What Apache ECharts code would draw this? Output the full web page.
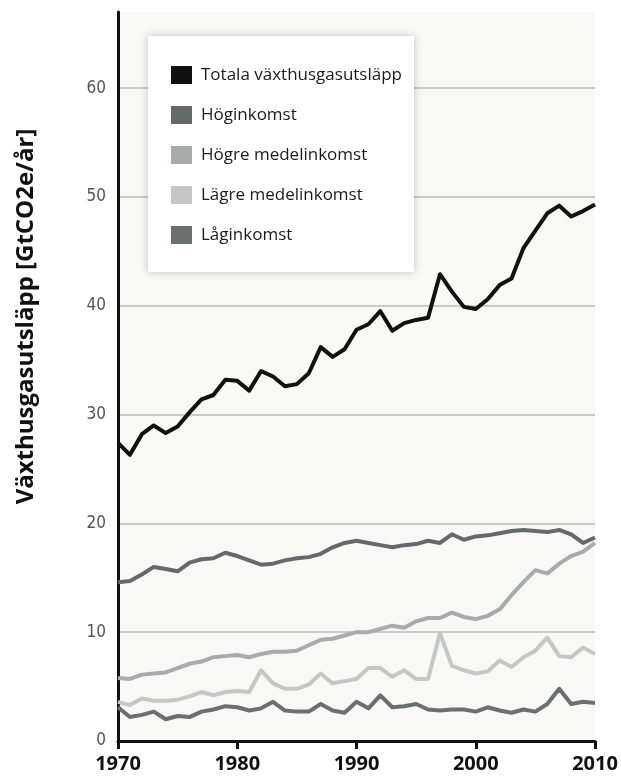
<!DOCTYPE html>
<html>
<head>
<meta charset="utf-8">
<script src="https://cdn.jsdelivr.net/npm/echarts@6/dist/echarts.min.js"></script>
<style>
    * { margin: 0; padding: 0; }
    body { background: #fff; }
</style>
</head>
<body>
<!-- container with a size for echarts -->
<div id="chart" style="width: 621px;height: 778px;"></div>
<script>
    var years = [1970,1971,1972,1973,1974,1975,1976,1977,1978,1979,
                 1980,1981,1982,1983,1984,1985,1986,1987,1988,1989,
                 1990,1991,1992,1993,1994,1995,1996,1997,1998,1999,
                 2000,2001,2002,2003,2004,2005,2006,2007,2008,2009,2010]
    var seriesNames = ['Totala växthusgasutsläpp','Höginkomst','Högre medelinkomst','Lägre medelinkomst','Låginkomst']
    var total = [27.4,26.3,28.2,29.0,28.3,28.9,30.2,31.4,31.8,33.2,
                 33.1,32.2,34.0,33.5,32.6,32.8,33.8,36.2,35.3,36.0,
                 37.8,38.3,39.5,37.7,38.4,38.7,38.9,42.9,41.3,39.9,
                 39.7,40.6,41.9,42.5,45.3,46.9,48.5,49.2,48.2,48.7,49.3]
    var hogInkomst = [14.6,14.7,15.3,16.0,15.8,15.6,16.4,16.7,16.8,17.3,
                      17.0,16.6,16.2,16.3,16.6,16.8,16.9,17.2,17.8,18.2,
                      18.4,18.2,18.0,17.8,18.0,18.1,18.4,18.2,19.0,18.5,
                      18.8,18.9,19.1,19.3,19.4,19.3,19.2,19.4,19.0,18.2,18.7]
    var hogreMedel = [5.8,5.7,6.1,6.2,6.3,6.7,7.1,7.3,7.7,7.8,
                      7.9,7.7,8.0,8.2,8.2,8.3,8.8,9.3,9.4,9.7,
                      10.0,10.0,10.3,10.6,10.4,11.0,11.3,11.3,11.8,11.4,
                      11.2,11.5,12.1,13.4,14.6,15.7,15.4,16.3,17.0,17.4,18.2]
    var lagreMedel = [3.6,3.3,3.9,3.7,3.7,3.8,4.1,4.5,4.2,4.5,
                      4.6,4.5,6.5,5.3,4.8,4.8,5.2,6.2,5.3,5.5,
                      5.7,6.7,6.7,5.9,6.5,5.7,5.7,9.9,6.9,6.5,
                      6.2,6.4,7.4,6.8,7.7,8.3,9.5,7.8,7.7,8.6,8.0]
    var lagInkomst = [3.1,2.2,2.4,2.7,2.0,2.3,2.2,2.7,2.9,3.2,
                      3.1,2.8,3.0,3.6,2.8,2.7,2.7,3.4,2.8,2.6,
                      3.6,3.0,4.2,3.1,3.2,3.4,2.9,2.8,2.9,2.9,
                      2.7,3.1,2.8,2.6,2.9,2.7,3.4,4.8,3.4,3.6,3.5]
    var lineColors = ['#111111','#646a6b','#a8abab','#c5c7c7','#6a6f70']

    function pairs(vals) {
        return years.map(function (y, i) { return [y, vals[i]] })
    }

    var chart = echarts.init(document.getElementById('chart'))
    var allValues = [total, hogInkomst, hogreMedel, lagreMedel, lagInkomst]
    var series = []
    // draw the small lines first so the total sits on top
    for (var i = allValues.length - 1; i >= 0; i--) {
        series.push({
            name: seriesNames[i],
            type: 'line',
            data: pairs(allValues[i]),
            showSymbol: false,
            symbol: 'none',
            z: 10 - i,
            lineStyle: { color: lineColors[i], width: 4, join: 'round' },
            itemStyle: { color: lineColors[i] }
        })
    }

    chart.setOption({
        animation: false,
        color: lineColors,
        grid: {
            left: 118, right: 26, top: 12, bottom: 37,
            show: true,
            backgroundColor: '#f8f8f6',
            borderWidth: 0
        },
        legend: {
            data: seriesNames,
            orient: 'vertical',
            left: 148, top: 36,
            padding: [30, 12, 28, 23],
            itemWidth: 21, itemHeight: 18,
            itemGap: 22,
            icon: 'rect',
            backgroundColor: '#ffffff',
            shadowColor: 'rgba(0,0,0,0.22)',
            shadowBlur: 8,
            textStyle: {
                color: '#1a1a1a',
                fontFamily: 'Open Sans',
                fontSize: 17,
                padding: [0, 0, 0, 4]
            }
        },
        xAxis: {
            type: 'value',
            min: 1970, max: 2010, interval: 10,
            axisLine: { lineStyle: { color: '#111', width: 3 } },
            axisTick: { show: true, length: 8, lineStyle: { color: '#111', width: 3 } },
            splitLine: { show: false },
            axisLabel: {
                color: '#111',
                fontFamily: 'Open Sans',
                fontWeight: 'bold',
                fontSize: 20,
                margin: 13,
                formatter: function (v) { return String(v) }
            }
        },
        yAxis: {
            type: 'value',
            min: 0, max: 67, interval: 10,
            name: 'Växthusgasutsläpp [GtCO2e/år]',
            nameLocation: 'middle',
            nameGap: 80,
            nameTextStyle: {
                color: '#111',
                fontFamily: 'Open Sans',
                fontWeight: 'bold',
                fontSize: 24,
                padding: [0, 0, 0, 120]
            },
            axisLine: { show: true, lineStyle: { color: '#111', width: 3 } },
            axisTick: { show: false },
            axisLabel: {
                color: '#555',
                fontFamily: 'Liberation Sans Narrow, DejaVu Sans Condensed, sans-serif',
                fontSize: 17,
                margin: 12,
                showMaxLabel: false
            },
            splitLine: {
                lineStyle: {
                    color: ['#cacaca','#cacaca','#cacaca','#cacaca','#cacaca','#cacaca','#cacaca','rgba(0,0,0,0)'],
                    width: 2
                }
            }
        },
        series: series
    })
</script>
</body>
</html>
